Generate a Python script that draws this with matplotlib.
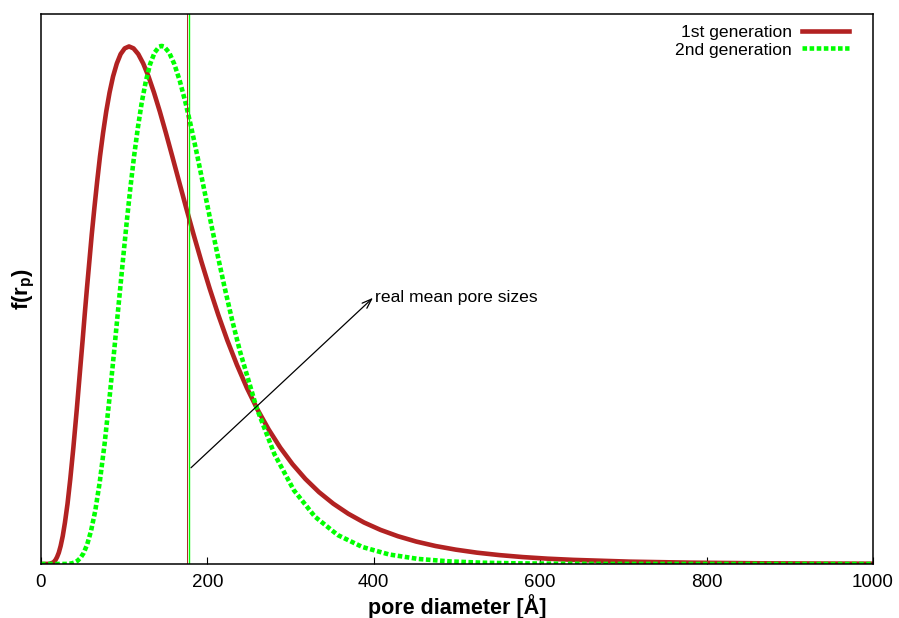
import matplotlib
matplotlib.use("Agg")
import matplotlib.pyplot as plt

plt.rcParams['font.family'] = ['Liberation Sans', 'DejaVu Sans']
plt.rcParams['mathtext.fontset'] = 'custom'
plt.rcParams['mathtext.rm'] = 'Liberation Sans'
plt.rcParams['mathtext.bf'] = 'Liberation Sans:bold'

# pore diameter [A] and f(r_p) in arbitrary units (smoothed)
x_gen1 = [0, 10, 14.3, 15.8, 17.5, 19.3, 21.4, 23.6, 26.1, 28.8, 31.9, 35.2, 38.9, 43,
          47.5, 50, 52.5, 55.2, 58.1, 61, 64.2, 67.5, 70.9, 74.6, 78.4, 82.4, 86.6,
          91.1, 95.7, 100.6, 105.8, 111.2, 116.9, 122.9, 129.2, 135.8, 142.8, 150.1,
          157.8, 165.9, 174.4, 183.4, 192.8, 202.7, 213.1, 224, 235.5, 247.5, 260.2,
          273.6, 287.6, 302.3, 317.8, 334.1, 351.3, 369.3, 388.2, 408.1, 429, 451,
          474.2, 498.5, 524, 550.9, 579, 608.8, 640.1, 707.4, 781.8, 864, 1000]
f_gen1 = [0, 0.0002, 0.0024, 0.0043, 0.0075, 0.0126, 0.0206, 0.0327, 0.0505, 0.0755,
          0.1097, 0.1546, 0.2115, 0.2809, 0.3620, 0.4064, 0.4529, 0.5009, 0.5498,
          0.5991, 0.6480, 0.6956, 0.7411, 0.7838, 0.8227, 0.8572, 0.8864, 0.9099,
          0.9271, 0.9375, 0.941, 0.9375, 0.9271, 0.9099, 0.8864, 0.8572, 0.8227,
          0.7838, 0.7411, 0.6956, 0.6480, 0.5991, 0.5498, 0.5009, 0.4529, 0.4064,
          0.3620, 0.3200, 0.2809, 0.2447, 0.2115, 0.1815, 0.1546, 0.1307, 0.1097,
          0.0914, 0.0755, 0.0620, 0.0505, 0.0408, 0.0327, 0.0261, 0.0206, 0.0162,
          0.0126, 0.0097, 0.0075, 0.0043, 0.0024, 0.0013, 0.0005]

x_gen2 = [0, 29.3, 31.7, 34.4, 37.2, 40.3, 43.7, 47.3, 51.3, 55.5, 60.1, 65.2, 70.6,
          76.5, 82.8, 87.9, 91.5, 95.3, 99.2, 103.2, 107.4, 111.8, 116.4, 121.1, 126.1,
          131.2, 136.6, 142.1, 145, 147.9, 154, 160.2, 166.8, 173.6, 180.7, 188.1,
          195.7, 203.7, 212, 220.7, 229.7, 239.1, 259, 280.5, 303.9, 329.2, 356.6,
          386.3, 418.5, 453.4, 491.1, 532, 576.4, 624.4, 676.4, 732.7, 793.7, 859.8,
          931.4, 1000]
f_gen2 = [0, 0.0001, 0.0003, 0.0006, 0.0013, 0.0028, 0.0056, 0.0108, 0.0201, 0.0355,
          0.0599, 0.0966, 0.1489, 0.2193, 0.3086, 0.387, 0.4436, 0.5028, 0.5635,
          0.6243, 0.6838, 0.7406, 0.793, 0.8394, 0.8785, 0.9091, 0.93, 0.9407, 0.942,
          0.9407, 0.93, 0.9091, 0.8785, 0.8394, 0.793, 0.7406, 0.6838, 0.6243, 0.5635,
          0.5028, 0.4436, 0.387, 0.2845, 0.1999, 0.1342, 0.0861, 0.0527, 0.0309,
          0.0173, 0.0092, 0.0047, 0.0023, 0.0011, 0.0005, 0.0002, 0.0001, 0, 0, 0, 0]

mean_gen1 = 176.0
mean_gen2 = 177.8

red = '#b22222'
green = '#00ff00'

fig = plt.figure(figsize=(8.99, 6.18), dpi=100)
ax = fig.add_axes([41 / 899, 54 / 618, 832 / 899, 550 / 618])

ax.plot(x_gen1, f_gen1, color=red, lw=3.3, label='1st generation')
ax.plot(x_gen2, f_gen2, color=green, lw=3.3, ls=(0, (1, 0.55)),
        dash_capstyle='butt', label='2nd generation')

ax.axvline(mean_gen1, color=red, lw=0.7)
ax.axvline(mean_gen2, color=green, lw=1.0)

ax.annotate('', xy=(399, 0.484), xytext=(180.3, 0.175),
            arrowprops=dict(arrowstyle='->,head_length=0.7,head_width=0.25',
                            color='black', lw=0.9, shrinkA=0, shrinkB=0))
ax.text(401, 0.484, 'real mean pore sizes', fontsize=12.6, ha='left', va='center')

ax.set_xlim(0, 1000)
ax.set_ylim(0, 1.0)
ax.set_xticks([0, 200, 400, 600, 800, 1000])
ax.set_yticks([])
ax.tick_params(axis='x', direction='in', length=5, width=0.8, labelsize=13.5, pad=7.5,
               top=False)
for s in ax.spines.values():
    s.set_linewidth(1.1)

ax.set_xlabel('pore diameter [Å]', fontsize=15.5, fontweight='bold', labelpad=2)
ax.set_ylabel(r'$\mathbf{f(r_p)}$', fontsize=16)
ax.yaxis.set_label_coords(-0.005, 0.5)

ax.legend(loc='upper right', bbox_to_anchor=(0.978, 0.99), borderaxespad=0,
          frameon=False, markerfirst=False, fontsize=12.6, handlelength=2.7,
          handletextpad=0.6, labelspacing=0.13, borderpad=0.3)

fig.savefig('out.png', dpi=100)
